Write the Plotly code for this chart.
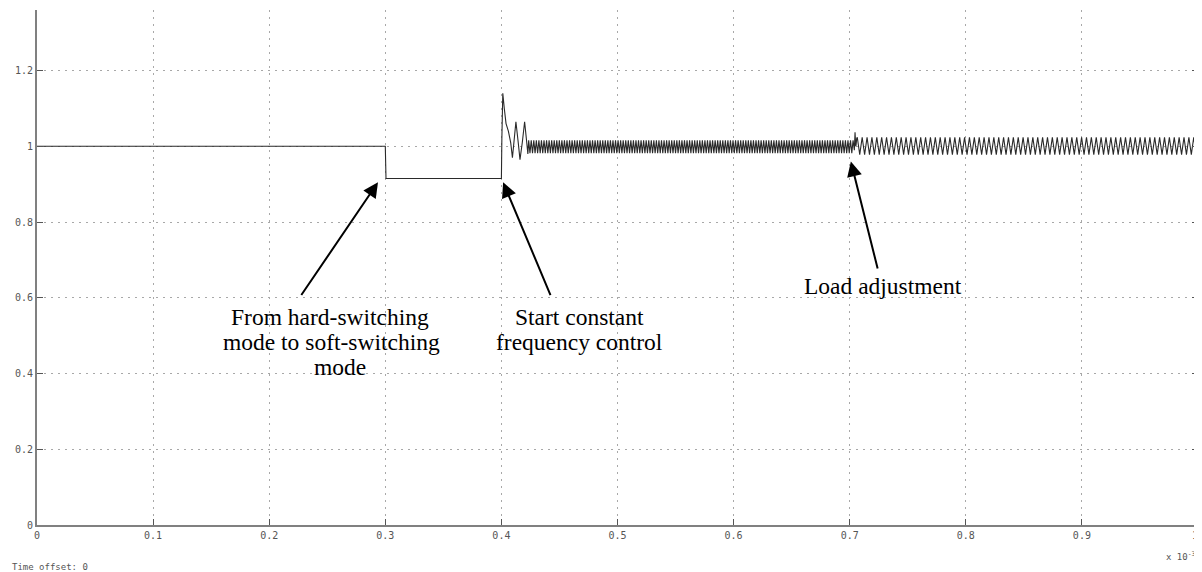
import plotly.graph_objects as go

# ---------------- data (time in units of 1e-3 s) ----------------
pre_t = [0.0, 0.300, 0.3006, 0.4000]
pre_v = [1.0, 1.0, 0.915, 0.915]

ring_t = [0.4004, 0.4012, 0.4025, 0.4040, 0.4060, 0.4080, 0.4095, 0.4110,
          0.4125, 0.4145, 0.4160, 0.4180, 0.4200, 0.4215, 0.4228]
ring_v = [1.02, 1.14, 1.10, 1.06, 1.04, 1.01, 0.97, 1.01,
          1.065, 1.01, 0.965, 1.01, 1.065, 1.02, 0.98]

band1_start = 0.4235
band1_period = 0.0022
band1_cycles = 128
band1_shape = [1.016, 0.982]          # one cycle: high, low

spike_t = [0.7040, 0.7046, 0.7052]
spike_v = [0.99, 1.037, 1.0]

band2_start = 0.7055
band2_period = 0.0042
band2_cycles = 70
band2_shape = [1.004, 1.021, 1.024, 1.012, 0.998, 0.981, 0.978, 0.990]   # one cycle

x_ticks = [0, 0.1, 0.2, 0.3, 0.4, 0.5, 0.6, 0.7, 0.8, 0.9, 1.0]
x_tick_text = ["0", "0.1", "0.2", "0.3", "0.4", "0.5", "0.6", "0.7", "0.8", "0.9", ""]
last_x_label = "1"
y_ticks = [0, 0.2, 0.4, 0.6, 0.8, 1.0, 1.2]
y_tick_text = ["0", "0.2", "0.4", "0.6", "0.8", "1", "1.2"]

# ---------------- build the waveform ----------------
t = list(pre_t) + list(ring_t)
v = list(pre_v) + list(ring_v)

n1 = len(band1_shape)
for k in range(band1_cycles):
    for j, val in enumerate(band1_shape):
        tt = band1_start + (k + j / n1) * band1_period
        if tt < spike_t[0]:
            t.append(tt)
            v.append(val)
t += spike_t
v += spike_v
n2 = len(band2_shape)
for k in range(band2_cycles):
    for j, val in enumerate(band2_shape):
        tt = band2_start + (k + j / n2) * band2_period
        if tt <= 1.0:
            t.append(tt)
            v.append(val)

fig = go.Figure()
fig.add_trace(go.Scatter(x=t, y=v, mode="lines",
                         line=dict(color="#2a2a2a", width=1.1),
                         hoverinfo="skip", showlegend=False))

tick_font = dict(family="DejaVu Sans Mono", size=10, color="#555555")
axis_common = dict(showgrid=True, gridcolor="#a8a8a8", griddash="2px,5px", gridwidth=1,
                   showline=True, linecolor="#808080", linewidth=2,
                   ticks="inside", ticklen=6, tickcolor="#555555", tickwidth=1,
                   zeroline=False, tickfont=tick_font, automargin=False)

fig.update_xaxes(range=[0, 1.0], tickvals=x_ticks, ticktext=x_tick_text, mirror=False,
                 **axis_common)
fig.update_yaxes(range=[0, 1.36], tickvals=y_ticks, ticktext=y_tick_text, mirror="ticks",
                 **axis_common)

text_font = dict(family="Liberation Serif", size=23.5, color="black")
annots = []
for txt, x, y in [("From hard-switching", 0.2525, 0.548),
                  ("mode to soft-switching", 0.2535, 0.482),
                  ("mode", 0.261, 0.418),
                  ("Start constant", 0.4675, 0.548),
                  ("frequency control", 0.4675, 0.482),
                  ("Load adjustment", 0.7286, 0.632)]:
    annots.append(dict(x=x, y=y, xref="x", yref="y", text=txt, showarrow=False,
                       font=text_font, xanchor="center", yanchor="middle"))
# arrows (head at x,y ; tail at ax,ay)
for x, y, ax, ay in [(0.2937, 0.905, 0.2265, 0.602),
                     (0.4015, 0.905, 0.4430, 0.602),
                     (0.7010, 0.960, 0.7245, 0.672)]:
    annots.append(dict(x=x, y=y, ax=ax, ay=ay, xref="x", yref="y", axref="x", ayref="y",
                       showarrow=True, arrowhead=2, arrowsize=1.5, arrowwidth=2,
                       arrowcolor="black", text=" ", font=dict(size=1)))
annots.append(dict(x=0.997, y=-0.006, xref="paper", yref="paper", xanchor="center", yanchor="top",
                   text=last_x_label, showarrow=False, font=tick_font))
annots.append(dict(x=0.999, y=-0.045, xref="paper", yref="paper", xanchor="right", yanchor="top",
                   text="x 10<sup>-3</sup>", showarrow=False,
                   font=dict(family="DejaVu Sans Mono", size=9, color="#555555")))
annots.append(dict(x=-0.023, y=-0.068, xref="paper", yref="paper", xanchor="left", yanchor="top",
                   text="Time offset: 0", showarrow=False,
                   font=dict(family="DejaVu Sans Mono", size=9, color="#555555")))

# page body adds an 8px offset, so the figure is sized to fit the window
fig.update_layout(width=1194, height=564, margin=dict(l=29, r=4, t=2, b=47),
                  paper_bgcolor="white", plot_bgcolor="white", annotations=annots)

fig.write_html("out.html")
